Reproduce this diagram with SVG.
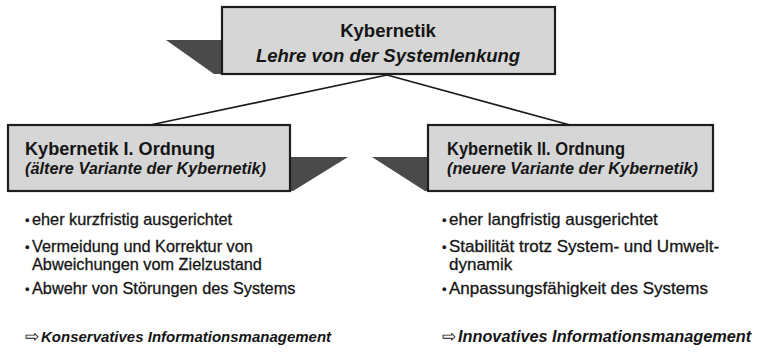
<svg xmlns="http://www.w3.org/2000/svg" width="757" height="358" viewBox="0 0 757 358">
<style>
.box{fill:#d6d6d6;stroke:#1e1e1e;stroke-width:2.2}
.shadow{fill:#4a4a4a}
.conn{stroke:#1a1a1a;stroke-width:1.6;fill:none}
.t{font-family:"Liberation Sans",Arial,sans-serif;fill:#151515}
.b{font-weight:bold}
.i{font-style:italic;font-weight:bold}
.title{font-size:18.5px}
.h{font-size:17.5px}
.sub{font-size:16.3px}
.liL{font-size:16.3px;stroke:#151515;stroke-width:0.3}
.liR{font-size:17px;stroke:#151515;stroke-width:0.3}
.dot{font-size:13px}
.arr{font-size:17px;stroke-width:0}
.resL{font-size:15px}
.resR{font-size:16.3px}
</style>
<rect width="757" height="358" fill="#ffffff"/>
<g id="connectors">
<line class="conn" x1="387" y1="75" x2="150" y2="125"/>
<line class="conn" x1="387" y1="75" x2="570" y2="125"/>
</g>
<g id="node-top">
<polygon class="shadow" points="166,40 222,40 222,74 214,74"/>
<rect class="box" x="222" y="7" width="333" height="67"/>
<text class="t b title" x="388" y="37" text-anchor="middle">Kybernetik</text>
<text class="t i title" x="388" y="62" text-anchor="middle">Lehre von der Systemlenkung</text>
</g>
<g id="node-left">
<polygon class="shadow" points="290,157 348,157 293,191 290,191"/>
<rect class="box" x="8" y="125" width="282" height="66"/>
<text class="t b h" x="25" y="155" textLength="190" lengthAdjust="spacingAndGlyphs">Kybernetik I. Ordnung</text>
<text class="t i sub" x="25" y="174">(ältere Variante der Kybernetik)</text>
</g>
<g id="node-right">
<polygon class="shadow" points="372,157 428,157 428,191 425,191"/>
<rect class="box" x="428" y="125" width="285" height="66"/>
<text class="t b h" x="447" y="155" textLength="178" lengthAdjust="spacingAndGlyphs">Kybernetik II. Ordnung</text>
<text class="t i sub" x="447" y="174">(neuere Variante der Kybernetik)</text>
</g>
<g id="list-left" class="t">
<text class="liL" y="225"><tspan class="dot" x="25">•</tspan><tspan x="32">eher kurzfristig ausgerichtet</tspan></text>
<text class="liL" y="252"><tspan class="dot" x="25">•</tspan><tspan x="32">Vermeidung und Korrektur von</tspan></text>
<text class="liL" x="32" y="270">Abweichungen vom Zielzustand</text>
<text class="liL" y="294"><tspan class="dot" x="25">•</tspan><tspan x="32">Abwehr von Störungen des Systems</tspan></text>
<text class="resL" y="342"><tspan class="arr" x="25">⇨</tspan><tspan class="i" x="41">Konservatives Informationsmanagement</tspan></text>
</g>
<g id="list-right" class="t">
<text class="liR" y="225"><tspan class="dot" x="442">•</tspan><tspan x="449">eher langfristig ausgerichtet</tspan></text>
<text class="liR" y="252"><tspan class="dot" x="442">•</tspan><tspan x="449">Stabilität trotz System- und Umwelt-</tspan></text>
<text class="liR" x="449" y="270">dynamik</text>
<text class="liR" y="294"><tspan class="dot" x="442">•</tspan><tspan x="449">Anpassungsfähigkeit des Systems</tspan></text>
<text class="resR" y="342"><tspan class="arr" x="442">⇨</tspan><tspan class="i" x="458">Innovatives Informationsmanagement</tspan></text>
</g>
</svg>
